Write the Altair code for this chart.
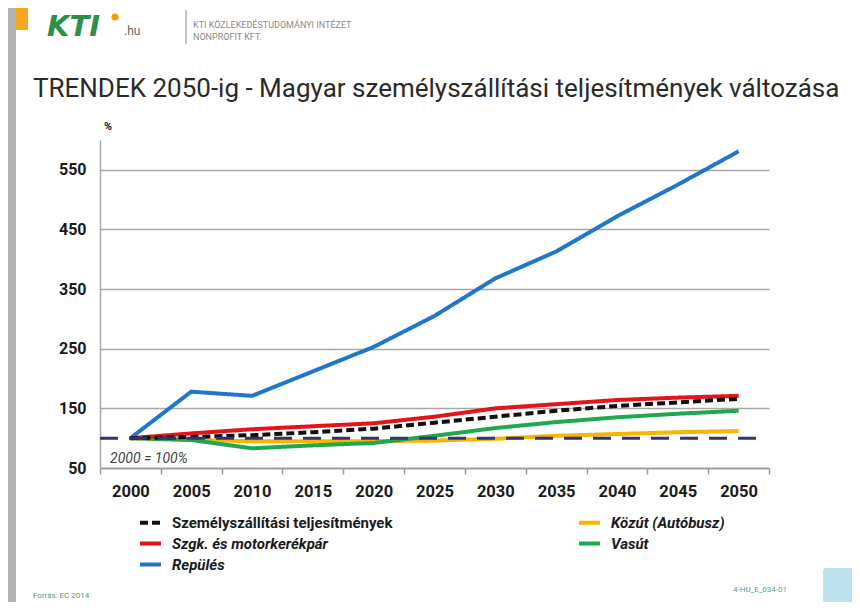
import altair as alt
import pandas as pd

# ---------------- data ----------------
years = ["2000", "2005", "2010", "2015", "2020", "2025", "2030", "2035", "2040", "2045", "2050"]

szemely = [100, 102, 105, 110, 116, 126, 136, 146, 154, 160, 166]
kozut = [100, 97, 95, 95, 95, 96, 99, 104, 107, 110, 112]
szgk = [100, 108, 115, 120, 125, 136, 150, 157, 164, 168, 171]
vasut = [100, 97, 83, 88, 92, 104, 117, 127, 135, 141, 146]
repules = [100, 178, 171, 212, 253, 305, 368, 413, 472, 525, 581]

legend_order = ["Személyszállítási teljesítmények", "Szgk. és motorkerékpár", "Repülés",
                "Közút (Autóbusz)", "Vasút"]
series_colors = ["#111111", "#e3151b", "#1f77c9", "#f7b500", "#1fa84f"]
series_dashes = [[8, 4], [1, 0], [1, 0], [1, 0], [1, 0]]

values_by_series = {
    "Személyszállítási teljesítmények": szemely,
    "Közút (Autóbusz)": kozut,
    "Szgk. és motorkerékpár": szgk,
    "Vasút": vasut,
    "Repülés": repules,
}
draw_order = ["Közút (Autóbusz)", "Vasút", "Szgk. és motorkerékpár", "Repülés",
              "Személyszállítási teljesítmények"]

y_ticks = [50, 150, 250, 350, 450, 550]
base_value = [100]

rows = []
for name in draw_order:
    for yr, v in zip(years, values_by_series[name]):
        rows.append({"year": yr, "value": v, "series": name})
df = pd.DataFrame(rows)

FONT = "Roboto"
one = alt.Data(values=[{"k": 0}])

legend = alt.Legend(
    title=None, orient="none", legendX=38, legendY=370, columns=2,
    symbolType="stroke", symbolStrokeWidth=4, symbolSize=441,
    labelFont=FONT, labelFontSize=15, labelFontWeight="bold", labelColor="#1a1a1a",
    labelFontStyle=alt.expr("datum.label == 'Személyszállítási teljesítmények' ? 'normal' : 'italic'"),
    labelOffset=9, labelLimit=400, columnPadding=178, rowPadding=0,
)

lines = alt.Chart(df).mark_line(strokeWidth=4, strokeCap="butt").encode(
    x=alt.X("year:O", bandPosition=0.5,
            scale=alt.Scale(type="band", paddingInner=0, paddingOuter=0),
            axis=alt.Axis(title=None, labelAngle=0, tickBand="extent", grid=False,
                          domainColor="#9a9a9a", domainWidth=1.5, tickColor="#9a9a9a",
                          tickWidth=1.5, tickSize=6, labelPadding=9, labelFont=FONT,
                          labelFontSize=16.5, labelFontWeight="bold", labelColor="#1a1a1a")),
    y=alt.Y("value:Q", scale=alt.Scale(domain=[50, 600], nice=False, zero=False),
            axis=alt.Axis(title=None, values=y_ticks, ticks=False, grid=True,
                          gridColor="#a8a8a8", gridWidth=1.5, domainColor="#a8a8a8",
                          domainWidth=1.5, labelPadding=14, labelFont=FONT,
                          labelFontSize=16, labelFontWeight="bold", labelColor="#1a1a1a")),
    color=alt.Color("series:N", scale=alt.Scale(domain=legend_order, range=series_colors),
                    legend=legend),
    strokeDash=alt.StrokeDash("series:N", scale=alt.Scale(domain=legend_order, range=series_dashes),
                              legend=legend),
)

ref = alt.Chart(alt.Data(values=[{"v": b} for b in base_value])).mark_rule(
    color="#35307a", strokeWidth=3, strokeDash=[18, 11]
).encode(y="v:Q", x=alt.value(0), x2=alt.value(660))


def txt(text, x, y, size, color, weight="normal", style="normal", font=FONT, align="left"):
    return alt.Chart(one).mark_text(
        text=text, align=align, baseline="alphabetic", fontSize=size, font=font,
        fontWeight=weight, fontStyle=style, color=color
    ).encode(x=alt.value(x), y=alt.value(y))


def rect(x, x2, y, y2, color, radius=0):
    return alt.Chart(one).mark_rect(color=color, cornerRadius=radius).encode(
        x=alt.value(x), x2=alt.value(x2), y=alt.value(y), y2=alt.value(y2))


deco = [
    rect(-92, -84, -132, 462, "#b3b3b3"),
    rect(-84, -72, -132, -110, "#f4a81d"),
    rect(723, 760, 428, 463, "#bfe0ee", 3),
    txt("KTI", -53, -104, 29, "#2e8f45", weight="bold", style="italic", font="DejaVu Sans"),
    alt.Chart(one).mark_point(filled=True, size=50, color="#f39c12", opacity=1).encode(
        x=alt.value(15), y=alt.value(-123)),
    txt(".hu", 24, -105, 12, "#666666"),
    alt.Chart(one).mark_rule(color="#9a9a9a", strokeWidth=1.2).encode(
        x=alt.value(86), y=alt.value(-130), y2=alt.value(-96)),
    txt("KTI KÖZLEKEDÉSTUDOMÁNYI INTÉZET", 93, -112, 9, "#8a8a8a"),
    txt("NONPROFIT KFT.", 93, -100, 9, "#8a8a8a"),
    txt("TRENDEK 2050-ig - Magyar személyszállítási teljesítmények változása",
        -67, -43, 26, "#2a2a2a"),
    txt("%", 4, -10, 11, "#1a1a1a", weight="bold"),
    txt("2000 = 100%", 10, 323, 14, "#444444", style="italic"),
    txt("Forrás: EC 2014", -67, 458, 8, "#4f9a6f"),
    txt("4-HU_E_034-01", 633, 452, 8, "#5a9f86"),
]

chart = alt.layer(lines, ref, *deco).properties(
    width=669, height=328,
    autosize=alt.AutoSizeParams(type="none"),
    padding={"left": 92, "top": 132, "right": 83, "bottom": 134},
    background="white",
).configure_view(stroke=None)

chart.save("out.html", embed_options={"renderer": "svg", "actions": False})
